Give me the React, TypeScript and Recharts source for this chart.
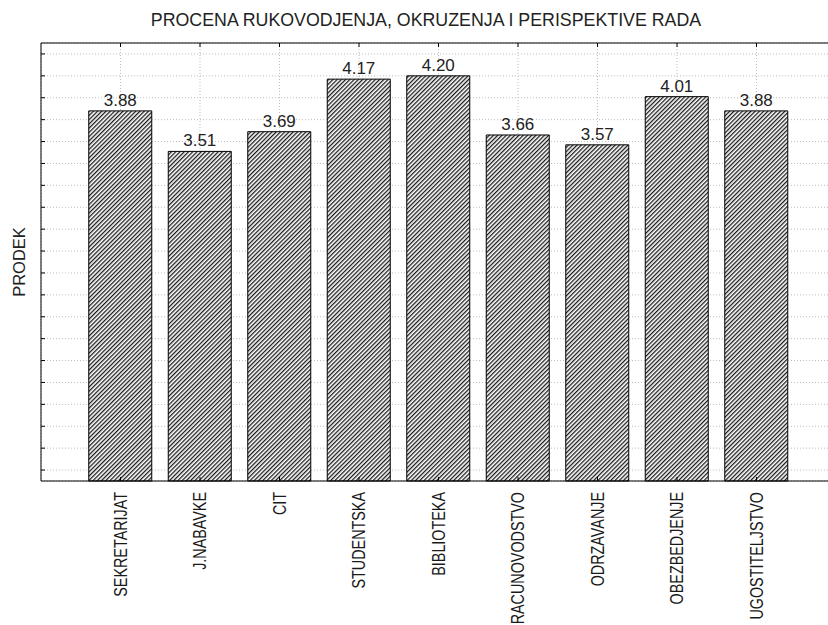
import { BarChart, Bar, XAxis, YAxis, CartesianGrid, LabelList } from "recharts"

const categories = [
  "SEKRETARIJAT",
  "J.NABAVKE",
  "CIT",
  "STUDENTSKA",
  "BIBLIOTEKA",
  "RACUNOVODSTVO",
  "ODRZAVANJE",
  "OBEZBEDJENJE",
  "UGOSTITELJSTVO",
]
const prosek = [3.88, 3.51, 3.69, 4.17, 4.2, 3.66, 3.57, 4.01, 3.88]
const yTicks = [0.6, 0.8, 1.0, 1.2, 1.4, 1.6, 1.8, 2.0, 2.2, 2.4, 2.6, 2.8, 3.0, 3.2, 3.4, 3.6, 3.8, 4.0, 4.2, 4.4]

const data = categories.map((name, i) => ({ name, value: prosek[i] }))

const FONT = '"Liberation Sans", Arial, sans-serif'

function CategoryTick({ x, y, payload }: { x?: number; y?: number; payload?: { value: string } }) {
  return (
    <g transform={`translate(${x},${y}) rotate(-90) scale(0.82,1)`}>
      <text x={0} y={6} textAnchor="end" fill="#1a1a1a" style={{ fontSize: 17.5, fontFamily: FONT }}>
        {payload?.value}
      </text>
    </g>
  )
}

// tick marks only, no text
function NoLabel() {
  return null
}

export default function App() {
  return (
    <div
      style={{
        position: "absolute",
        left: 0,
        top: 0,
        width: 828,
        height: 625,
        overflow: "hidden",
        background: "#fff",
        fontFamily: FONT,
      }}
    >
      <div
        style={{
          position: "absolute",
          left: 0,
          width: 852,
          top: 10,
          textAlign: "center",
          fontSize: 17.8,
          color: "#222",
        }}
      >
        PROCENA RUKOVODJENJA, OKRUZENJA I PERISPEKTIVE RADA
      </div>
      <BarChart
        width={850}
        height={625}
        data={data}
        margin={{ top: 42, right: 14, bottom: 0, left: 0 }}
      >
        <defs>
          <pattern id="hatch" patternUnits="userSpaceOnUse" width={3} height={3} patternTransform="rotate(45)">
            <rect width={3} height={3} fill="#fff" />
            <line x1={0.65} y1={0} x2={0.65} y2={3} stroke="#1a1a1a" strokeWidth={1.3} />
          </pattern>
        </defs>
        <CartesianGrid stroke="#bdbdbd" strokeDasharray="1 2" />
        <XAxis
          dataKey="name"
          interval={0}
          height={144}
          padding={{ left: 39.75, right: 39.75 }}
          axisLine={{ stroke: "#000" }}
          tickLine={{ stroke: "#000" }}
          tickSize={-4}
          tickMargin={15}
          tick={<CategoryTick />}
        />
        <XAxis
          xAxisId="top"
          orientation="top"
          dataKey="name"
          interval={0}
          height={1}
          padding={{ left: 39.75, right: 39.75 }}
          axisLine={{ stroke: "#000" }}
          tickLine={{ stroke: "#000" }}
          tickSize={-4}
          tick={<NoLabel />}
        />
        <YAxis
          type="number"
          domain={[0.5, 4.5]}
          ticks={yTicks}
          interval={0}
          width={41}
          axisLine={{ stroke: "#000" }}
          tickLine={{ stroke: "#000" }}
          tickSize={-4}
          tick={<NoLabel />}
          label={{
            value: "PRODEK",
            angle: -90,
            position: "center",
            dx: -1,
            style: { fontSize: 16.5, fill: "#222", fontFamily: FONT },
          }}
        />
        <Bar dataKey="value" barSize={63} fill="url(#hatch)" stroke="#000" strokeWidth={1} isAnimationActive={false}>
          <LabelList
            dataKey="value"
            position="top"
            offset={5}
            formatter={(v: number) => v.toFixed(2)}
            style={{ fontSize: 17, fill: "#222", fontFamily: FONT }}
          />
        </Bar>
      </BarChart>
    </div>
  )
}
